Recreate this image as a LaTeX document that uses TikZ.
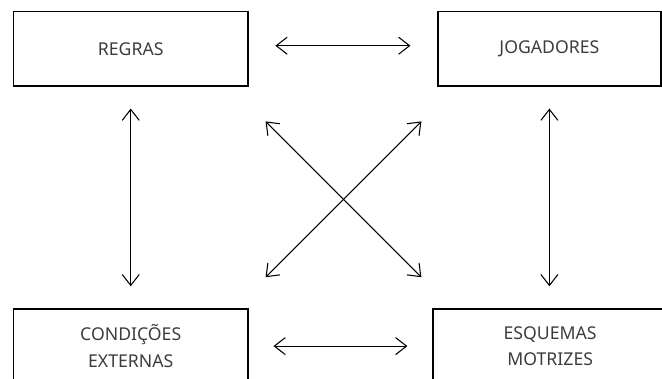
\documentclass[tikz,border=0pt]{standalone}
\usepackage{fontspec}
\setmainfont{Noto Sans}
\usetikzlibrary{arrows.meta}
\definecolor{ink}{HTML}{3C3C3C}

\begin{document}
\begin{tikzpicture}[font=\fontsize{13.3}{20}\selectfont,box/.style={draw=black,line width=1pt,minimum width=6.2cm,minimum height=1.97cm,text=ink,align=center},link/.style={{Straight Barb[length=2.9mm,width=4.5mm]}-{Straight Barb[length=2.9mm,width=4.5mm]},line width=0.8pt}]
\useasboundingbox (0,0) rectangle (17.52,-10.03);
\node[box] (regras) at (3.46,-1.29) {REGRAS};
\node[box,minimum width=5.9cm] (jogadores) at (14.54,-1.29) {JOGADORES};
\node[box] (condicoes) at (3.46,-9.16) {CONDIÇÕES\\EXTERNAS};
\node[box] (esquemas) at (14.56,-9.16) {ESQUEMAS\\MOTRIZES};
% sides of the square
\draw[link,shorten <=0.71cm,shorten >=0.71cm] ([yshift=0.08cm]regras.east) -- ([yshift=0.08cm]jogadores.west);
\draw[link,shorten <=0.66cm,shorten >=0.66cm] (condicoes) -- (esquemas);
\draw[link,shorten <=0.58cm,shorten >=0.58cm] (regras) -- (condicoes);
\draw[link,shorten <=0.58cm,shorten >=0.58cm] (jogadores.south) -- (jogadores.south |- esquemas.north);
% the two diagonals
\draw[link] ([shift={(0.45,-0.92)}]regras.south east) -- ([shift={(-0.29,0.82)}]esquemas.north west);
\draw[link] ([shift={(-0.42,-0.92)}]jogadores.south west) -- ([shift={(0.45,0.82)}]condicoes.north east);
\end{tikzpicture}
\end{document}
